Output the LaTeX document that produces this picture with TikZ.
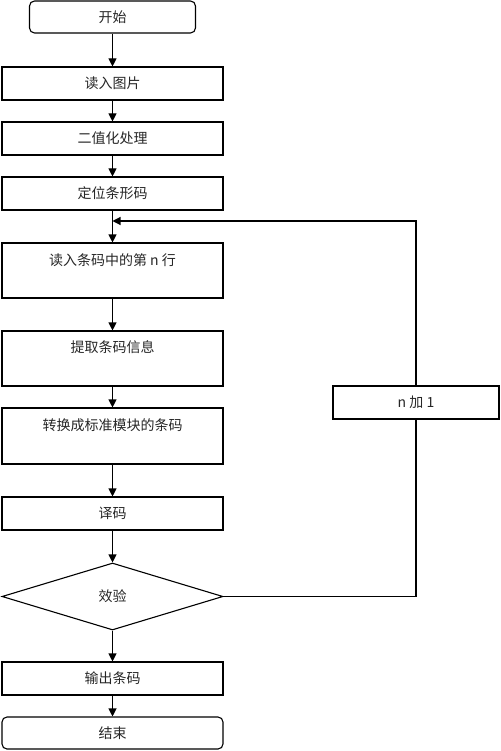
\documentclass[tikz,border=0pt]{standalone}
\usepackage{fontspec}
\newfontfamily\cjk{Noto Sans CJK SC}
\usetikzlibrary{arrows.meta,shapes.geometric}
\tikzset{
  box/.style={draw, line width=1.1pt, minimum width=221pt, inner sep=0pt},
  term/.style={box, rounded corners=5pt},
  txt/.style={font=\cjk\fontsize{14}{16}\selectfont, text=black!85, inner sep=0pt},
  arr/.style={line width=1.1pt, -{Triangle[length=8pt,width=8pt]}},
  ln/.style={line width=1.1pt}
}
\begin{document}
\begin{tikzpicture}[x=1pt,y=-1pt]
\useasboundingbox (0,0) rectangle (500,751);
\node[term, minimum width=166pt, minimum height=32pt] (start) at (112.5,17) {};
\node[txt] (tstart) at (112.5,17) {开始};
\node[box, minimum height=33pt] (read) at (112.5,83.5) {};
\node[txt] (tread) at (112.5,83.5) {读入图片};
\node[box, minimum height=33pt] (bin) at (112.5,138.5) {};
\node[txt] (tbin) at (112.5,138.5) {二值化处理};
\node[box, minimum height=33pt] (loc) at (112.5,193.5) {};
\node[txt] (tloc) at (112.5,193.5) {定位条形码};
\node[box, minimum height=55pt] (row) at (112.5,270.5) {};
\node[txt] (trow) at (112.5,260) {读入条码中的第 n 行};
\node[box, minimum height=55pt] (ext) at (112.5,358.5) {};
\node[txt] (text) at (112.5,347) {提取条码信息};
\node[box, minimum height=56pt] (conv) at (112.5,436) {};
\node[txt] (tconv) at (112.5,425) {转换成标准模块的条码};
\node[box, minimum height=33pt] (dec) at (112.5,513.5) {};
\node[txt] (tdec) at (112.5,513.5) {译码};
\node[diamond, draw, line width=1.1pt, minimum width=221pt, minimum height=67pt, inner sep=0pt, aspect=3.3] (chk) at (112.5,596.5) {};
\node[txt] (tchk) at (112.5,596.5) {效验};
\node[box, minimum height=33pt] (out) at (112.5,678.5) {};
\node[txt] (tout) at (112.5,678.5) {输出条码};
\node[term, minimum height=32pt] (end) at (112.5,733) {};
\node[txt] (tend) at (112.5,733) {结束};
\node[box, minimum width=166pt, minimum height=33pt] (inc) at (416,402.5) {};
\node[txt] (tinc) at (416,402.5) {n 加 1};
\coordinate (loopin) at (112.5,221);
\draw[arr] (start.south) -- (read.north);
\draw[arr] (read.south) -- (bin.north);
\draw[arr] (bin.south) -- (loc.north);
\draw[arr] (loc.south) -- (row.north);
\draw[arr] (row.south) -- (ext.north);
\draw[arr] (ext.south) -- (conv.north);
\draw[arr] (conv.south) -- (dec.north);
\draw[arr] (dec.south) -- (chk.north);
\draw[arr] (chk.south) -- (out.north);
\draw[arr] (out.south) -- (end.north);
\draw[ln] (chk.east) -| (inc.south);
\draw[arr] (inc.north) |- (loopin);
\end{tikzpicture}
\end{document}
